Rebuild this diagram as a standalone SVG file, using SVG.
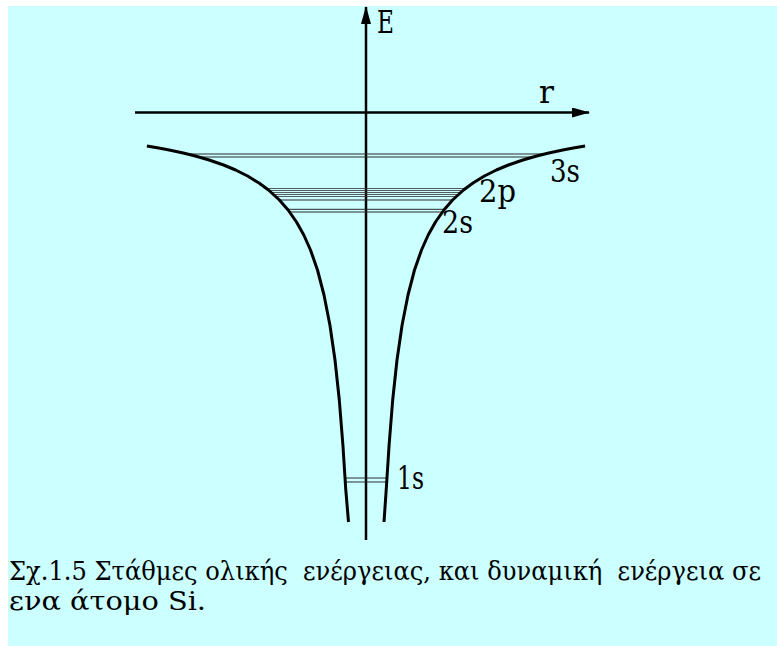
<svg xmlns="http://www.w3.org/2000/svg" width="777" height="646" viewBox="0 0 777 646">
<defs>
<style>
.lbl{font-family:"DejaVu Serif",serif;font-size:31px;fill:#000}
.cap{font-family:"DejaVu Serif",serif;font-size:26px;fill:#000}
.axis{stroke:#000;stroke-width:2.5;fill:none}
.curve{stroke:#000;stroke-width:3;fill:none;stroke-linejoin:round;stroke-linecap:butt}
.lvl{stroke:#2a2a2a;stroke-width:1}
.lvl2{stroke:#333;stroke-width:0.8}
</style>
<marker id="ah" viewBox="0 0 18 10" refX="17" refY="5" markerWidth="18" markerHeight="10" markerUnits="userSpaceOnUse" orient="auto">
<path d="M0,0 L18,5 L0,10 Z" fill="#000"/>
</marker>
</defs>
<rect x="8" y="6" width="769" height="640" fill="#CCFFFF"/>
<g id="axes">
<line class="axis" x1="366" y1="540" x2="366" y2="7" marker-end="url(#ah)"/>
<line class="axis" x1="135" y1="112.5" x2="589" y2="112.5" marker-end="url(#ah)"/>
</g>
<g id="levels">
<line class="lvl" x1="187.4" y1="154" x2="544.6" y2="154"/>
<line class="lvl" x1="199" y1="157" x2="533" y2="157"/>
<line class="lvl2" x1="266.3" y1="188.5" x2="465.7" y2="188.5"/>
<line class="lvl2" x1="268.5" y1="190.5" x2="463.5" y2="190.5"/>
<line class="lvl2" x1="270.9" y1="192.5" x2="461.1" y2="192.5"/>
<line class="lvl2" x1="273.2" y1="194.5" x2="458.8" y2="194.5"/>
<line class="lvl2" x1="275.3" y1="196.5" x2="456.7" y2="196.5"/>
<line class="lvl" x1="279.4" y1="200" x2="452.6" y2="200"/>
<line class="lvl" x1="287.6" y1="209.3" x2="444.4" y2="209.3"/>
<line class="lvl" x1="289.7" y1="212" x2="442.3" y2="212"/>
<line class="lvl" x1="345" y1="478" x2="387" y2="478"/>
<line class="lvl" x1="345.2" y1="482" x2="386.8" y2="482"/>
</g>
<g id="potential">
<polyline class="curve" points="146.9,146 158.7,148 169.2,150 183.2,153 195.3,156 209.1,160 223.6,165 235.6,170 247.6,176 259,183 268.5,190 279.4,200 288.1,210 296.5,222 303.8,235 310.5,250 317.5,270 324,295 329.9,325 335,360 339.3,400 342.9,445 345.8,490 348.5,522"/>
<polyline class="curve" points="585.1,146 573.3,148 562.8,150 548.8,153 536.7,156 522.9,160 508.4,165 496.4,170 484.4,176 473,183 463.5,190 452.6,200 443.9,210 435.5,222 428.2,235 421.5,250 414.5,270 408,295 402.1,325 397,360 392.7,400 389.1,445 386.2,490 384,522"/>
</g>
<g id="labels">
<text class="lbl" x="377" y="33" textLength="17" lengthAdjust="spacingAndGlyphs">E</text>
<text class="lbl" x="539" y="103" textLength="15" lengthAdjust="spacingAndGlyphs">r</text>
<text class="lbl" x="550" y="182" textLength="30" lengthAdjust="spacingAndGlyphs">3s</text>
<text class="lbl" x="479" y="202" textLength="37" lengthAdjust="spacingAndGlyphs">2p</text>
<text class="lbl" x="442" y="233" textLength="31" lengthAdjust="spacingAndGlyphs">2s</text>
<text class="lbl" x="397" y="489" textLength="27" lengthAdjust="spacingAndGlyphs">1s</text>
</g>
<g id="caption">
<text class="cap" x="9" y="580" xml:space="preserve" textLength="752" lengthAdjust="spacingAndGlyphs">Σχ.1.5 Στάθμες ολικής  ενέργειας, και δυναμική  ενέργεια σε</text>
<text class="cap" x="9" y="610" textLength="197" lengthAdjust="spacingAndGlyphs">ενα άτομο Si.</text>
</g>
</svg>
